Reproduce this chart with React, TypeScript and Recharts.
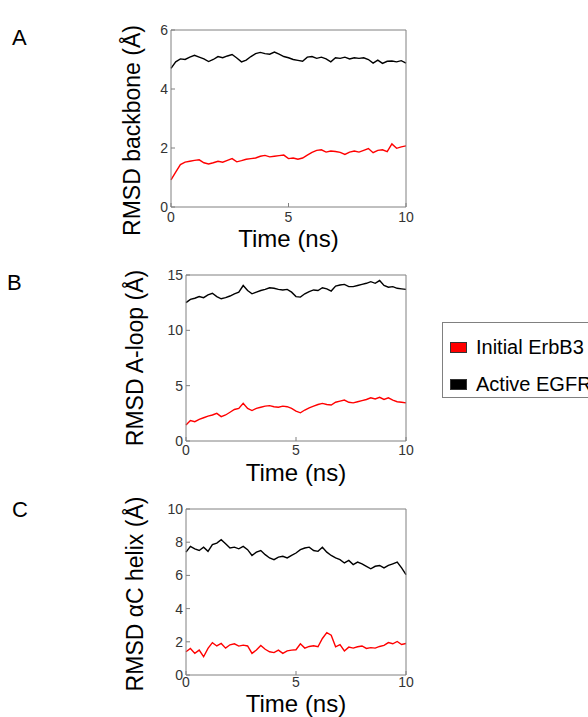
import { Legend, Line, LineChart, XAxis, YAxis } from "recharts";

// time axis, ns
const timeNs = [
    0, 0.2, 0.4, 0.6, 0.8, 1, 1.2, 1.4, 1.6, 1.8, 2, 2.2, 2.4, 2.6, 2.8, 3, 3.2, 3.4, 3.6, 3.8,
    4, 4.2, 4.4, 4.6, 4.8, 5, 5.2, 5.4, 5.6, 5.8, 6, 6.2, 6.4, 6.6, 6.8, 7, 7.2, 7.4, 7.6, 7.8,
    8, 8.2, 8.4, 8.6, 8.8, 9, 9.2, 9.4, 9.6, 9.8, 10,
];

// A: RMSD backbone
const backboneErbB3 = [
    0.92, 1.18, 1.44, 1.52, 1.55, 1.58, 1.6, 1.5, 1.46, 1.5, 1.55, 1.52, 1.58, 1.64, 1.53, 1.57, 1.62, 1.64, 1.66, 1.72,
    1.75, 1.7, 1.72, 1.74, 1.76, 1.64, 1.66, 1.62, 1.66, 1.76, 1.85, 1.92, 1.94, 1.86, 1.9, 1.88, 1.85, 1.78, 1.86, 1.9,
    1.86, 1.92, 1.98, 1.84, 1.92, 1.94, 1.88, 2.14, 1.99, 2.04, 2.07,
];
const backboneEGFR = [
    4.7, 4.92, 5.02, 5.0, 5.08, 5.14, 5.08, 5.02, 4.93, 5.0, 5.1, 5.06, 5.12, 5.17, 5.05, 4.92, 4.98, 5.1, 5.2, 5.24,
    5.2, 5.18, 5.25, 5.18, 5.1, 5.06, 5.0, 4.97, 4.94, 5.08, 5.1, 5.04, 5.08, 5.02, 4.92, 5.06, 5.04, 5.08, 5.02, 5.06,
    5.04, 5.06, 5.0, 4.88, 4.98, 4.87, 4.94, 4.95, 4.92, 4.96, 4.88,
];

// B: RMSD A-loop
const aloopErbB3 = [
    1.45, 1.85, 1.75, 1.95, 2.1, 2.25, 2.35, 2.5, 2.2, 2.35, 2.6, 2.85, 2.95, 3.4, 2.95, 2.75, 2.95, 3.05, 3.15, 3.2,
    3.1, 3.05, 3.15, 3.1, 2.95, 2.7, 2.55, 2.8, 3.0, 3.15, 3.3, 3.4, 3.3, 3.25, 3.5, 3.6, 3.7, 3.5, 3.45, 3.55,
    3.65, 3.75, 3.9, 3.8, 3.95, 3.75, 3.9, 3.7, 3.55, 3.5, 3.45,
];
const aloopEGFR = [
    12.5, 12.8, 12.9, 13.05, 12.95, 13.2, 13.35, 13.05, 12.85, 12.95, 13.1, 13.3, 13.45, 14.05, 13.6, 13.3, 13.45, 13.6, 13.7, 13.85,
    13.8, 13.7, 13.65, 13.7, 13.45, 13.05, 13.0, 13.3, 13.5, 13.65, 13.6, 13.85, 13.75, 13.55, 14.0, 14.1, 14.15, 13.95, 13.95, 14.05,
    14.15, 14.25, 14.4, 14.25, 14.5, 14.05, 13.9, 13.95, 13.8, 13.75, 13.7,
];

// C: RMSD alphaC helix
const helixErbB3 = [
    1.4, 1.6, 1.3, 1.5, 1.1, 1.6, 1.95, 1.75, 1.9, 1.62, 1.82, 1.88, 1.74, 1.8, 1.75, 1.3, 1.5, 1.78, 1.55, 1.4,
    1.35, 1.5, 1.3, 1.45, 1.5, 1.52, 1.88, 1.62, 1.72, 1.76, 1.7, 2.2, 2.55, 2.4, 1.7, 1.83, 1.45, 1.68, 1.62, 1.7,
    1.75, 1.6, 1.65, 1.62, 1.72, 1.78, 1.95, 1.88, 2.02, 1.84, 1.9,
];
const helixEGFR = [
    7.4, 7.75, 7.6, 7.5, 7.7, 7.45, 7.85, 7.95, 8.15, 7.9, 7.65, 7.7, 7.6, 7.75, 7.55, 7.2, 7.4, 7.5, 7.25, 7.05,
    6.95, 7.1, 7.15, 7.05, 7.2, 7.35, 7.55, 7.65, 7.7, 7.5, 7.45, 7.7, 7.4, 7.2, 7.05, 6.95, 6.75, 6.9, 6.65, 6.8,
    6.7, 6.55, 6.4, 6.55, 6.6, 6.45, 6.6, 6.7, 6.8, 6.45, 6.05,
];

const timeTicks = [0, 5, 10];
const backboneTicks = [0, 2, 4, 6];
const aloopTicks = [0, 5, 10, 15];
const helixTicks = [0, 2, 4, 6, 8, 10];
const legendOrder = ["Initial ErbB3", "Active EGFR"];

const GRAY = "#808080";
const FONT = "'Liberation Sans', Arial, sans-serif";

function YTitle(props: any) {
    const vb = props.viewBox || { x: 0, y: 0, width: 0, height: 0 };
    const cx = vb.x + vb.width - props.gap;
    const cy = vb.y + vb.height / 2 + props.shift;
    return (
        <text
            x={cx}
            y={cy}
            transform={`rotate(-90 ${cx} ${cy})`}
            textAnchor="middle"
            dominantBaseline="central"
            fontSize={23}
            fill="#000"
            fontFamily={FONT}
        >
            {props.value}
        </text>
    );
}

function LegendBox({ payload }: any) {
    const items = [...(payload || [])].sort(
        (a: any, b: any) => legendOrder.indexOf(a.value) - legendOrder.indexOf(b.value)
    );
    return (
        <div
            style={{
                position: "relative",
                width: 160,
                height: 76,
                border: `1px solid ${GRAY}`,
                boxSizing: "border-box",
                background: "#fff",
                fontFamily: FONT,
            }}
        >
            {items.map((p: any, i: number) => (
                <div
                    key={p.value}
                    style={{
                        position: "absolute",
                        left: 7,
                        top: 14 + i * 37,
                        height: 20,
                        display: "flex",
                        alignItems: "center",
                        fontSize: 20,
                        lineHeight: "20px",
                        color: "#000",
                        whiteSpace: "nowrap",
                    }}
                >
                    <span
                        style={{
                            display: "inline-block",
                            width: 17,
                            height: 11,
                            background: p.color,
                            border: "1px solid #333",
                            boxSizing: "border-box",
                            marginRight: 9,
                        }}
                    />
                    <span>{p.value}</span>
                </div>
            ))}
        </div>
    );
}

interface PanelProps {
    red: number[];
    black: number[];
    yTicks: number[];
    yTitle: string;
    plotLeft: number;
    plotTop: number;
    plotBottom: number;
    titleGap: number;
    titleShift: number;
    xTitleOffset: number;
    xTickMargin: number;
    withLegend?: boolean;
}

const CHART_LEFT = 90;
const PLOT_RIGHT = 406;
const TOP_PAD = 20;

function Panel({ red, black, yTicks, yTitle, plotLeft, plotTop, plotBottom, titleGap, titleShift, xTitleOffset, xTickMargin, withLegend }: PanelProps) {
    const data = timeNs.map((t, i) => ({ t, red: red[i], black: black[i] }));
    const top = plotTop - TOP_PAD;
    const height = TOP_PAD + (plotBottom - plotTop) + 50;
    const width = PLOT_RIGHT + 10 - CHART_LEFT;
    const yMax = yTicks[yTicks.length - 1];
    const tickStyle = { fontSize: 14, fill: "#333", fontFamily: FONT };

    return (
        <div style={{ position: "absolute", left: CHART_LEFT, top }}>
            <LineChart width={width} height={height} data={data} margin={{ top: TOP_PAD - 1, right: 9, bottom: 0, left: 0 }}>
                <XAxis
                    dataKey="t"
                    type="number"
                    domain={[0, 10]}
                    ticks={timeTicks}
                    height={50}
                    tickSize={-4}
                    tickMargin={xTickMargin}
                    tick={tickStyle}
                    axisLine={{ stroke: GRAY }}
                    tickLine={{ stroke: GRAY }}
                    label={{ value: "Time (ns)", position: "insideBottom", offset: xTitleOffset, fontSize: 24, fill: "#000", fontFamily: FONT }}
                />
                <XAxis
                    xAxisId="top"
                    orientation="top"
                    dataKey="t"
                    type="number"
                    domain={[0, 10]}
                    ticks={timeTicks}
                    height={1}
                    tickSize={-4}
                    tick={false}
                    axisLine={{ stroke: GRAY }}
                    tickLine={{ stroke: GRAY }}
                />
                <YAxis
                    type="number"
                    domain={[0, yMax]}
                    ticks={yTicks}
                    width={plotLeft - CHART_LEFT}
                    tickSize={-4}
                    tickMargin={7}
                    tick={tickStyle}
                    axisLine={{ stroke: GRAY }}
                    tickLine={{ stroke: GRAY }}
                    label={<YTitle value={yTitle} gap={titleGap} shift={titleShift} />}
                />
                <YAxis
                    yAxisId="right"
                    orientation="right"
                    type="number"
                    domain={[0, yMax]}
                    ticks={yTicks}
                    width={1}
                    tickSize={-4}
                    tick={false}
                    axisLine={{ stroke: GRAY }}
                    tickLine={{ stroke: GRAY }}
                />
                {withLegend && (
                    <Legend
                        layout="vertical"
                        align="center"
                        verticalAlign="middle"
                        content={<LegendBox />}
                        wrapperStyle={{ left: 442 - CHART_LEFT, top: 322 - top, width: 160, height: 76 }}
                    />
                )}
                <Line
                    dataKey="red"
                    name="Initial ErbB3"
                    type="linear"
                    stroke="#ff0000"
                    strokeWidth={1.4}
                    dot={false}
                    isAnimationActive={false}
                />
                <Line
                    dataKey="black"
                    name="Active EGFR"
                    type="linear"
                    stroke="#000000"
                    strokeWidth={1.4}
                    dot={false}
                    isAnimationActive={false}
                />
            </LineChart>
        </div>
    );
}

const letterStyle = {
    position: "absolute" as const,
    fontSize: 22,
    lineHeight: "22px",
    fontFamily: FONT,
    color: "#000",
};

export default function App() {
    return (
        <div
            style={{
                position: "fixed",
                left: 0,
                top: 0,
                width: 588,
                height: 717,
                overflow: "hidden",
                background: "#fff",
                fontFamily: FONT,
            }}
        >
            <div style={{ ...letterStyle, left: 12, top: 27 }}>A</div>
            <div style={{ ...letterStyle, left: 7, top: 272 }}>B</div>
            <div style={{ ...letterStyle, left: 12, top: 499 }}>C</div>

            <Panel
                red={backboneErbB3}
                black={backboneEGFR}
                yTicks={backboneTicks}
                yTitle="RMSD backbone (Å)"
                plotLeft={171}
                plotTop={30}
                plotBottom={207}
                titleGap={39}
                titleShift={12}
                xTitleOffset={10}
                xTickMargin={9}
            />
            <Panel
                red={aloopErbB3}
                black={aloopEGFR}
                yTicks={aloopTicks}
                yTitle="RMSD A-loop (Å)"
                plotLeft={186}
                plotTop={275}
                plotBottom={441}
                titleGap={51}
                titleShift={0}
                xTitleOffset={10}
                xTickMargin={8}
                withLegend
            />
            <Panel
                red={helixErbB3}
                black={helixEGFR}
                yTicks={helixTicks}
                yTitle="RMSD αC helix (Å)"
                plotLeft={186}
                plotTop={509}
                plotBottom={675}
                titleGap={51}
                titleShift={2}
                xTitleOffset={13}
                xTickMargin={6}
            />
        </div>
    );
}
